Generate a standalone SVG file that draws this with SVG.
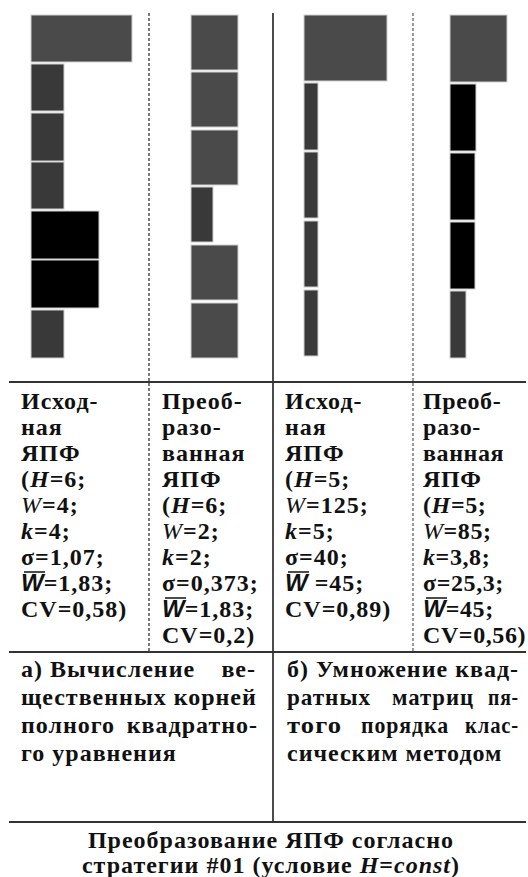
<svg xmlns="http://www.w3.org/2000/svg" width="528" height="877" viewBox="0 0 528 877">
<style>
.bg{fill:#ffffff}
.b1{fill:#4a4a4a;stroke:#d0d0d0;stroke-width:1}
.b2{fill:#393939;stroke:#d0d0d0;stroke-width:1}
.b3{fill:#000000;stroke:#d0d0d0;stroke-width:1}
.t{font-family:"Liberation Serif","Times New Roman",serif;font-weight:bold;font-size:24px;fill:#111111;letter-spacing:1px}
.c4{letter-spacing:0.6px}
.it{font-style:italic}
.wi{font-style:italic;font-weight:normal}
.wb{font-family:"Liberation Sans",Arial,sans-serif;font-style:italic;font-weight:bold;letter-spacing:0}
.ov{stroke:#111111;stroke-width:1.5}
.solid{stroke:#111111;stroke-width:1.5;fill:none}
.hl{stroke:#333333;stroke-width:2;fill:none}
.dash1{stroke:#222222;stroke-width:1.2;stroke-dasharray:3 2;fill:none}
.dash2{stroke:#777777;stroke-width:1.5;stroke-dasharray:3 2;fill:none}
</style>
<rect class="bg" x="0" y="0" width="528" height="877"/>
<g id="connectors">
<line class="dash1" x1="149" y1="13" x2="149" y2="652"/>
<line class="dash2" x1="413" y1="13" x2="413" y2="652"/>
<line class="solid" x1="273" y1="13" x2="273" y2="822"/>
<line class="hl" x1="9" y1="382" x2="526" y2="382"/>
<line class="hl" x1="9" y1="652" x2="526" y2="652"/>
<line class="hl" x1="9" y1="822" x2="526" y2="822"/>
</g>
<g id="panel-a-source">
<rect class="b1" x="31" y="15" width="101" height="47"/>
<rect class="b2" x="31" y="64" width="33" height="47"/>
<rect class="b2" x="31" y="113" width="33" height="48"/>
<rect class="b2" x="31" y="162" width="33" height="47"/>
<rect class="b3" x="31" y="211" width="68" height="48"/>
<rect class="b3" x="31" y="260" width="68" height="48"/>
<rect class="b2" x="31" y="310" width="33" height="48"/>
</g>
<g id="panel-a-transformed">
<rect class="b1" x="191" y="15" width="47" height="55"/>
<rect class="b1" x="191" y="72" width="47" height="55"/>
<rect class="b1" x="191" y="130" width="47" height="55"/>
<rect class="b2" x="191" y="187" width="22" height="55"/>
<rect class="b1" x="191" y="245" width="47" height="55"/>
<rect class="b1" x="191" y="303" width="47" height="55"/>
</g>
<g id="panel-b-source">
<rect class="b1" x="304" y="15" width="83" height="66"/>
<rect class="b2" x="304" y="83" width="14" height="67"/>
<rect class="b2" x="304" y="152" width="14" height="66"/>
<rect class="b2" x="304" y="221" width="14" height="66"/>
<rect class="b2" x="304" y="290" width="14" height="66"/>
</g>
<g id="panel-b-transformed">
<rect class="b1" x="450" y="15" width="57" height="67"/>
<rect class="b3" x="450" y="84" width="26" height="67"/>
<rect class="b3" x="450" y="153" width="25" height="67"/>
<rect class="b3" x="450" y="222" width="25" height="67"/>
<rect class="b2" x="450" y="291" width="16" height="67"/>
</g>
<g id="col1-text" class="t">
<text x="21" y="409">Исход-</text>
<text x="21" y="435">ная</text>
<text x="21" y="461">ЯПФ</text>
<text x="21" y="487">(<tspan class="it">H</tspan>=6;</text>
<text x="21" y="513"><tspan class="wi">W</tspan>=4;</text>
<text x="21" y="539"><tspan class="it">k</tspan>=4;</text>
<text x="21" y="565">σ=1,07;</text>
<text x="21" y="591"><tspan class="wb">W</tspan>=1,83;</text>
<line class="ov" x1="24" y1="572" x2="45" y2="572"/>
<text x="21" y="617">CV=0,58)</text>
</g>
<g id="col2-text" class="t">
<text x="162" y="409">Преоб-</text>
<text x="162" y="435">разо-</text>
<text x="162" y="461">ванная</text>
<text x="162" y="487">ЯПФ</text>
<text x="162" y="513">(<tspan class="it">H</tspan>=6;</text>
<text x="162" y="539"><tspan class="wi">W</tspan>=2;</text>
<text x="162" y="565"><tspan class="it">k</tspan>=2;</text>
<text x="162" y="591">σ=0,373;</text>
<text x="162" y="617"><tspan class="wb">W</tspan>=1,83;</text>
<line class="ov" x1="165" y1="598" x2="186" y2="598"/>
<text x="162" y="643">CV=0,2)</text>
</g>
<g id="col3-text" class="t">
<text x="285" y="409">Исход-</text>
<text x="285" y="435">ная</text>
<text x="285" y="461">ЯПФ</text>
<text x="285" y="487">(<tspan class="it">H</tspan>=5;</text>
<text x="285" y="513"><tspan class="wi">W</tspan>=125;</text>
<text x="285" y="539"><tspan class="it">k</tspan>=5;</text>
<text x="285" y="565">σ=40;</text>
<text x="285" y="591"><tspan class="wb">W</tspan> =45;</text>
<line class="ov" x1="288" y1="572" x2="309" y2="572"/>
<text x="285" y="617">CV=0,89)</text>
</g>
<g id="col4-text" class="t c4">
<text x="423" y="409">Преоб-</text>
<text x="423" y="435">разо-</text>
<text x="423" y="461">ванная</text>
<text x="423" y="487">ЯПФ</text>
<text x="423" y="513">(<tspan class="it">H</tspan>=5;</text>
<text x="423" y="539"><tspan class="wi">W</tspan>=85;</text>
<text x="423" y="565"><tspan class="it">k</tspan>=3,8;</text>
<text x="423" y="591">σ=25,3;</text>
<text x="423" y="617"><tspan class="wb">W</tspan>=45;</text>
<line class="ov" x1="426" y1="598" x2="447" y2="598"/>
<text x="423" y="643">CV=0,56)</text>
</g>
<g id="caption-a" class="t">
<text x="21" y="677">а) Вычисление</text>
<text x="256" y="677" text-anchor="end">ве-</text>
<text x="21" y="705">щественных корней</text>
<text x="21" y="733">полного</text>
<text x="258" y="733" text-anchor="end">квадратно-</text>
<text x="21" y="761">го уравнения</text>
</g>
<g id="caption-b" class="t">
<text x="287" y="677" textLength="232" lengthAdjust="spacingAndGlyphs">б) Умножение квад-</text>
<text x="287" y="705" textLength="84" lengthAdjust="spacingAndGlyphs">ратных</text>
<text x="392" y="705" textLength="82" lengthAdjust="spacingAndGlyphs">матриц</text>
<text x="488" y="705" textLength="31" lengthAdjust="spacingAndGlyphs">пя-</text>
<text x="287" y="733" textLength="55" lengthAdjust="spacingAndGlyphs">того</text>
<text x="361" y="733" textLength="88" lengthAdjust="spacingAndGlyphs">порядка</text>
<text x="465" y="733" textLength="54" lengthAdjust="spacingAndGlyphs">клас-</text>
<text x="287" y="761">сическим методом</text>
</g>
<g id="title" class="t" text-anchor="middle">
<text x="271" y="848">Преобразование ЯПФ согласно</text>
<text x="271" y="873">стратегии #01 (условие <tspan class="it">H</tspan>=<tspan class="it">const</tspan>)</text>
</g>
</svg>
